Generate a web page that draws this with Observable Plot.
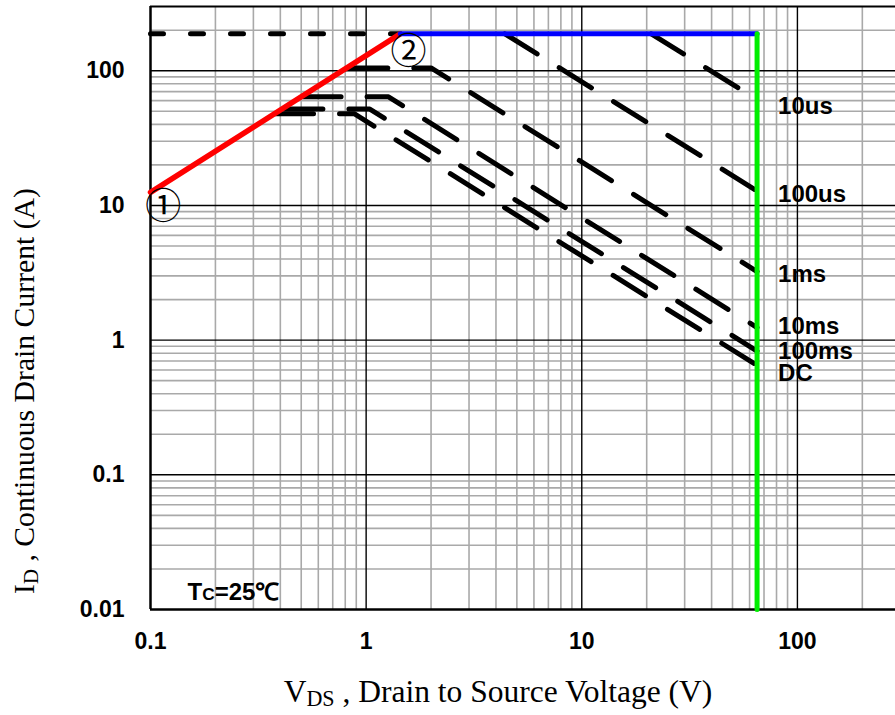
<!DOCTYPE html>
<html><head><meta charset="utf-8">
<script src="https://cdn.jsdelivr.net/npm/d3@7"></script>
<script src="https://cdn.jsdelivr.net/npm/@observablehq/plot@0.6"></script>
<style>body{margin:0;background:#fff}</style>
</head><body><div id="chart"></div>
<script>
// ---- data ----
const xTicks = [0.1, 1, 10, 100];
const yTicks = [0.01, 0.1, 1, 10, 100];
const pulseNames = ["10us", "100us", "1ms", "10ms", "100ms", "DC"];
const pulseV = [[21, 65], [4.4, 65], [0.84, 2.0, 65], [0.51, 1.27, 65], [0.42, 1.04, 65], [0.38, 0.88, 65]];
const pulseI = [[188, 61], [188, 12.8], [105, 105, 3.23], [64, 64, 1.24], [52, 52, 0.83], [48, 48, 0.65]];
const labelI = [54, 12.1, 3.06, 1.27, 0.83, 0.565];
const labelV = 65;
const rdsV = [0.1, 1.44], rdsI = [12.5, 188];
const idmV = [1.44, 65], idmI = [188, 188];
const bvV = [65, 65], bvI = [188, 0.01];
const topDashV = [0.1, 1.44], topDashI = [188, 188];
const markNames = ["①", "②"], markV = [0.1145, 1.57], markI = [9.6, 136];
const condText = "TC=25℃", condV = 0.2425, condI = 0.01338;
const xTitle = ["V", "DS", " , Drain to Source Voltage (V)"];
const yTitle = ["I", "D", " , Continuous Drain Current (A)"];

// ---- derived tables ----
const xMax = 285, yMax = 300;
const minorX = [], minorY = [];
for (const d of [0.1, 1, 10, 100]) for (let k = 2; k <= 9; k++) if (d * k < xMax) minorX.push(d * k);
for (const d of [0.01, 0.1, 1, 10, 100]) for (let k = 2; k <= 9; k++) if (d * k < yMax) minorY.push(d * k);
const pulseRows = pulseNames.flatMap((name, j) => pulseV[j].map((v, k) => ({name, v, i: pulseI[j][k]})));
const labelRows = pulseNames.map((name, j) => ({name, v: labelV, i: labelI[j]}));
const pts = (V, I) => V.map((v, k) => ({v, i: I[k]}));
const markRows = markNames.map((t, j) => ({t, v: markV[j], i: markI[j]}));

const sans = "'Liberation Sans', Arial, Helvetica, sans-serif";
const serif = "'Liberation Serif', 'Times New Roman', serif";

const chart = Plot.plot({
  width: 895, height: 715,
  marginLeft: 150, marginRight: 0, marginTop: 6, marginBottom: 106,
  x: {type: "log", domain: [0.1, xMax]},
  y: {type: "log", domain: [0.01, yMax]},
  style: {fontFamily: sans, background: "#fff"},
  marks: [
    Plot.ruleX(minorX, {stroke: "#a9a9a9", strokeWidth: 1.6}),
    Plot.ruleY(minorY, {stroke: "#a9a9a9", strokeWidth: 1.6}),
    Plot.ruleX(xTicks.slice(1), {stroke: "#000", strokeWidth: 1.4}),
    Plot.ruleY(yTicks.slice(1), {stroke: "#000", strokeWidth: 1.4}),
    Plot.ruleX([0.1], {stroke: "#000", strokeWidth: 2.5}),
    Plot.ruleY([0.01], {stroke: "#000", strokeWidth: 2.5}),
    Plot.ruleY([yMax], {stroke: "#000", strokeWidth: 2.2}),
    Plot.axisX(xTicks, {tickSize: 0, tickPadding: 23, tickFormat: d => String(d), fontSize: 23, fontWeight: "bold", label: null}),
    Plot.axisY(yTicks, {tickSize: 0, tickPadding: 26, tickFormat: d => String(d), fontSize: 23, fontWeight: "bold", label: null}),
    Plot.line(pulseRows, {x: "v", y: "i", z: "name", stroke: "#000", strokeWidth: 5, strokeDasharray: "38,26", strokeLinecap: "round"}),
    Plot.line(pts(topDashV, topDashI), {x: "v", y: "i", stroke: "#000", strokeWidth: 5, strokeDasharray: "13,27", strokeLinecap: "round"}),
    Plot.line(pts(rdsV, rdsI), {x: "v", y: "i", stroke: "#ff0000", strokeWidth: 5.5}),
    Plot.line(pts(idmV, idmI), {x: "v", y: "i", stroke: "#0000ff", strokeWidth: 5}),
    Plot.line(pts(bvV, bvI), {x: "v", y: "i", stroke: "#00ee00", strokeWidth: 5}),
    Plot.text(labelRows, {x: "v", y: "i", text: "name", dx: 21, textAnchor: "start", fontSize: 24, fontWeight: "bold", fill: "#000"}),
    Plot.text([{t: condText, v: condV, i: condI}], {x: "v", y: "i", text: "t", fontSize: 24, fontWeight: "bold", fill: "#000"}),
    Plot.text(markRows, {x: "v", y: "i", text: "t", fontSize: 36, fontFamily: "'Noto Sans CJK JP', 'DejaVu Sans', serif", fill: "#000"})
  ]
});
document.getElementById("chart").appendChild(chart);

const svg = d3.select(chart);
// white boxes behind the right-side labels and the condition label
svg.selectAll("text").filter(function () {
  return pulseNames.includes(this.textContent) || this.textContent === condText;
}).each(function () {
  const isCond = this.textContent === condText;
  if (isCond) {
    const t = d3.select(this);
    t.text(null);
    t.append("tspan").text("T");
    t.append("tspan").attr("font-size", "0.72em").text("C");
    t.append("tspan").text("=25℃");
  }
  const b = this.getBBox();
  const pl = isCond ? 11 : 9, pr = isCond ? 7 : 12, pt = isCond ? 10 : 1, pb = isCond ? 1 : 0;
  this.parentNode.insertBefore(
    d3.create("svg:rect").attr("x", b.x - pl).attr("y", b.y - pt)
      .attr("width", b.width + pl + pr).attr("height", b.height + pt + pb)
      .attr("fill", "#fff").node(), this);
});

function title(g, parts) {
  g.append("tspan").text(parts[0]);
  g.append("tspan").attr("font-size", "0.7em").attr("dy", 4).text(parts[1]);
  g.append("tspan").attr("dy", -4).text(parts[2]);
}
title(svg.append("text").attr("x", 498).attr("y", 702).attr("text-anchor", "middle")
  .attr("font-family", serif).attr("font-size", 31.5).attr("fill", "#000"), xTitle);
title(svg.append("text").attr("transform", "translate(34,391) rotate(-90)").attr("text-anchor", "middle")
  .attr("font-family", serif).attr("font-size", 29.7).attr("fill", "#000"), yTitle);
</script>
</body></html>
